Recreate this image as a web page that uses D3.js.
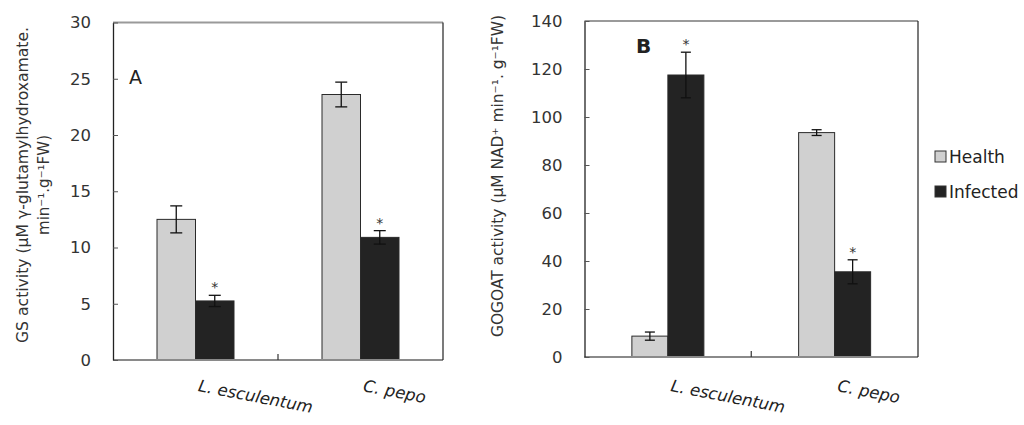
<!DOCTYPE html>
<html><head><meta charset="utf-8">
<script src="https://cdn.jsdelivr.net/npm/d3@7"></script>
<style>
html,body{margin:0;padding:0;background:#fff;}
svg{display:block;font-family:"DejaVu Sans",sans-serif;}
</style></head>
<body><svg id="c" width="1024" height="425"></svg>
<script>
// ---- data ----
const categories = ["L. esculentum", "C. pepo"];
const seriesNames = ["Health", "Infected"];
const gsHealth = [12.5, 23.6];
const gsHealthErr = [1.2, 1.1];
const gsInfected = [5.25, 10.9];
const gsInfectedErr = [0.5, 0.6];
const gsStars = ["", "*", "", "*"]; // H-L, I-L, H-C, I-C  (by category, series)
const gogatHealth = [8.7, 93.5];
const gogatHealthErr = [1.7, 1.2];
const gogatInfected = [117.5, 35.5];
const gogatInfectedErr = [9.5, 5.0];
const gogatStars = ["", "*", "", "*"];
const gsTicks = [0, 5, 10, 15, 20, 25, 30];
const gogatTicks = [0, 20, 40, 60, 80, 100, 120, 140];
const gsTitle = ["GS activity (µM γ-glutamylhydroxamate.", "min⁻¹.g⁻¹FW)"];
const gogatTitle = ["GOGOAT activity (µM NAD⁺ min⁻¹. g⁻¹FW)"];

const colors = {Health: "#d0d0d0", Infected: "#232323"};
const svg = d3.select("#c");

function panel(o) {
  const g = svg.append("g");
  const x = d3.scaleBand().domain(categories).range([o.x0, o.x1]);
  const y = d3.scaleLinear().domain([0, d3.max(o.ticks)]).range([o.y0, o.y1]);
  const rows = [];
  categories.forEach((c, i) => {
    rows.push({c, s: "Health", v: o.h[i], e: o.he[i], star: o.stars[i*2]});
    rows.push({c, s: "Infected", v: o.inf[i], e: o.ie[i], star: o.stars[i*2+1]});
  });
  const bx = d => x(d.c) + x.bandwidth()/2 + (d.s === "Health" ? -o.bw : 0);
  g.selectAll("rect.bar").data(rows).join("rect")
    .attr("x", bx).attr("width", o.bw)
    .attr("y", d => y(d.v)).attr("height", d => y(0) - y(d.v))
    .attr("fill", d => colors[d.s]).attr("stroke", "#2a2a2a").attr("stroke-width", 1);
  // error bars
  const eg = g.selectAll("g.err").data(rows).join("g")
    .attr("transform", d => `translate(${bx(d) + o.bw/2},0)`);
  eg.append("line").attr("y1", d => y(d.v - d.e)).attr("y2", d => y(d.v + d.e))
    .attr("stroke", "#111").attr("stroke-width", 1.3);
  eg.append("line").attr("x1", -o.cap).attr("x2", o.cap)
    .attr("y1", d => y(d.v + d.e)).attr("y2", d => y(d.v + d.e)).attr("stroke", "#111").attr("stroke-width", 1.3);
  eg.append("line").attr("x1", -o.cap).attr("x2", o.cap)
    .attr("y1", d => y(d.v - d.e)).attr("y2", d => y(d.v - d.e)).attr("stroke", "#111").attr("stroke-width", 1.3);
  eg.append("text").text(d => d.star).attr("text-anchor", "middle")
    .attr("y", d => y(d.v + d.e) - 3).attr("font-size", 14).attr("fill", "#333")
    .style("-webkit-font-smoothing", "antialiased");
  // frame
  g.append("line").attr("x1", o.x0).attr("x2", o.x1).attr("y1", y.range()[1]).attr("y2", y.range()[1])
    .attr("stroke", "#9a9a9a").attr("stroke-width", 2);
  g.append("line").attr("x1", o.x0).attr("x2", o.x1).attr("y1", y(0)).attr("y2", y(0))
    .attr("stroke", "#8a8a8a").attr("stroke-width", 2);
  g.append("line").attr("x1", o.x1).attr("x2", o.x1).attr("y1", y.range()[1]).attr("y2", y(0))
    .attr("stroke", "#222").attr("stroke-width", 1.2);
  // middle tick between categories
  g.append("line").attr("x1", x(categories[1])).attr("x2", x(categories[1]))
    .attr("y1", y(0)).attr("y2", y(0) - 6).attr("stroke", "#333").attr("stroke-width", 1.2);
  // y axis
  const ax = g.append("g").attr("transform", `translate(${o.x0},0)`)
    .call(d3.axisLeft(y).tickValues(o.ticks).tickSizeInner(-5).tickSizeOuter(0).tickPadding(22));
  ax.select(".domain").attr("stroke", "#222").attr("stroke-width", 1.3);
  ax.selectAll(".tick line").attr("stroke", "#555");
  ax.selectAll(".tick text").attr("font-size", 16.5).attr("fill", "#333")
    .attr("font-family", "DejaVu Sans");
  // y title
  o.title.forEach((t, i) => {
    g.append("text").attr("transform", `translate(${o.tx + i*o.tlh},${o.ty}) rotate(-90)`)
      .attr("text-anchor", "middle").attr("font-size", 15.5).attr("fill", "#333")
      .attr("textLength", o.tlen[i]).attr("lengthAdjust", "spacingAndGlyphs").text(t);
  });
  // x labels
  g.selectAll("text.xl").data(categories).join("text")
    .attr("transform", d => `translate(${x(d) + x.bandwidth()/2 + 2},${o.xly}) rotate(11)`)
    .attr("font-size", 16.5).attr("font-style", "italic").attr("fill", "#222").text(d => d);
  // panel letter
  g.append("text").attr("x", o.lx).attr("y", o.ly).attr("font-size", o.lfs)
    .attr("font-weight", o.lfw).attr("fill", "#222").text(o.letter);
}

panel({x0: 113, x1: 443, y0: 360, y1: 22.5, ticks: gsTicks, h: gsHealth, he: gsHealthErr,
  inf: gsInfected, ie: gsInfectedErr, stars: gsStars, bw: 38.5, cap: 6, title: gsTitle,
  tlen: [316, 100], tx: 28, ty: 185, tlh: 21, xly: 391, letter: "A", lx: 129, ly: 84, lfs: 19, lfw: "normal"});
panel({x0: 584.5, x1: 918, y0: 357, y1: 21, ticks: gogatTicks, h: gogatHealth, he: gogatHealthErr,
  inf: gogatInfected, ie: gogatInfectedErr, stars: gogatStars, bw: 36, cap: 5, title: gogatTitle,
  tlen: [322], tx: 503, ty: 176, tlh: 0, xly: 391, letter: "B", lx: 636, ly: 53, lfs: 20, lfw: "bold"});

// legend
const lg = svg.append("g").attr("transform", "translate(935,151)");
seriesNames.forEach((s, i) => {
  lg.append("rect").attr("x", 0).attr("y", i*35).attr("width", 11).attr("height", 11)
    .attr("fill", colors[s]).attr("stroke", "#333").attr("stroke-width", 1);
  lg.append("text").attr("x", 14).attr("y", i*35 + 12).attr("font-size", 17).attr("fill", "#222").text(s);
});
</script></body></html>
